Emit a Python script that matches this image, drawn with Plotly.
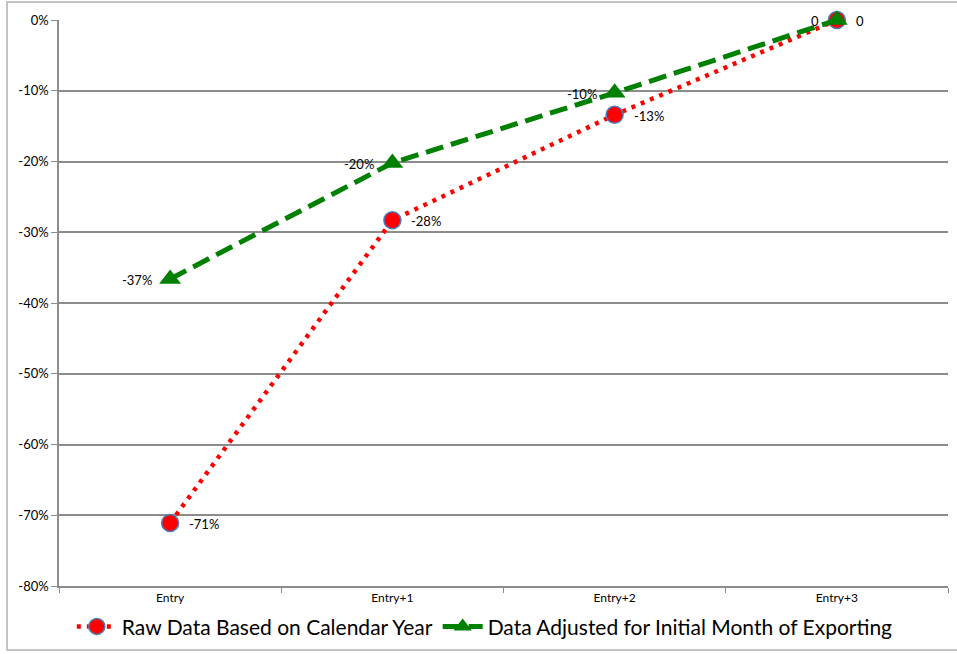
import plotly.graph_objects as go

categories = ["Entry", "Entry+1", "Entry+2", "Entry+3"]
raw_values = [-0.711, -0.283, -0.134, 0.0]
adj_values = [-0.366, -0.202, -0.103, 0.0]
raw_labels = ["-71%", "-28%", "-13%", "0"]
adj_labels = ["-37%", "-20%", "-10%", "0"]
y_tickvals = [0, -0.1, -0.2, -0.3, -0.4, -0.5, -0.6, -0.7, -0.8]
y_ticktext = ["0%", "-10%", "-20%", "-30%", "-40%", "-50%", "-60%", "-70%", "-80%"]

FONT = "Lato, Open Sans, sans-serif"
GRID = "#8c8c8c"

fig = go.Figure()
fig.add_trace(go.Scatter(
    x=categories, y=raw_values, name="Raw Data Based on Calendar Year",
    mode="lines+markers", cliponaxis=False,
    line=dict(color="#ff0000", width=4.5, dash="4px,6px"),
    marker=dict(symbol="circle", size=17, color="#ff0000",
                line=dict(color="#4a7ebb", width=1.5)),
))
fig.add_trace(go.Scatter(
    x=categories, y=adj_values, name="Data Adjusted for Initial Month of Exporting",
    mode="lines+markers", cliponaxis=False,
    line=dict(color="#008000", width=5, dash="18px,8px"),
    marker=dict(symbol="triangle-up", size=19, color="#008000"),
))

annotations = []
for c, v, t in zip(categories, raw_values, raw_labels):
    annotations.append(dict(x=c, y=v, text=t, showarrow=False, xanchor="left",
                            yanchor="middle", xshift=17, yshift=-1,
                            font=dict(size=13, family=FONT, color="black")))
for c, v, t in zip(categories, adj_values, adj_labels):
    annotations.append(dict(x=c, y=v, text=t, showarrow=False, xanchor="right",
                            yanchor="middle", xshift=-16, yshift=-1,
                            font=dict(size=13, family=FONT, color="black")))

fig.update_layout(
    width=957, height=654,
    margin=dict(l=59, r=9, t=20, b=68, autoexpand=False),
    paper_bgcolor="white", plot_bgcolor="white",
    font=dict(family=FONT, color="black", size=12),
    showlegend=True,
    annotations=annotations,
    legend=dict(orientation="h", x=0.479, xanchor="center", y=-0.072, yanchor="middle",
                font=dict(size=21, family=FONT), itemwidth=40, tracegroupgap=0,
                bgcolor="rgba(0,0,0,0)"),
    xaxis=dict(type="category", range=[-0.5, 3.5], showgrid=False,
               showline=True, linecolor=GRID, linewidth=1.5,
               ticks="outside", tickson="boundaries", ticklen=5, tickcolor=GRID,
               tickfont=dict(size=12), fixedrange=True),
    yaxis=dict(range=[-0.8, 0.0], tickvals=y_tickvals, ticktext=y_ticktext,
               showgrid=True, gridcolor=GRID, gridwidth=1.5, zeroline=False,
               showline=True, linecolor=GRID, linewidth=1.5,
               ticks="outside", ticklen=6, tickcolor=GRID,
               tickfont=dict(size=13)),
    shapes=[dict(type="rect", xref="paper", yref="paper",
                 x0=-0.0585, x1=1.02, y0=-0.113, y1=1.0318,
                 line=dict(color="#b0b0b0", width=1.5), layer="below")],
)

fig.write_html("out.html", config={"displayModeBar": False},
               post_script="document.body.style.margin='0';document.body.style.overflow='hidden';")
